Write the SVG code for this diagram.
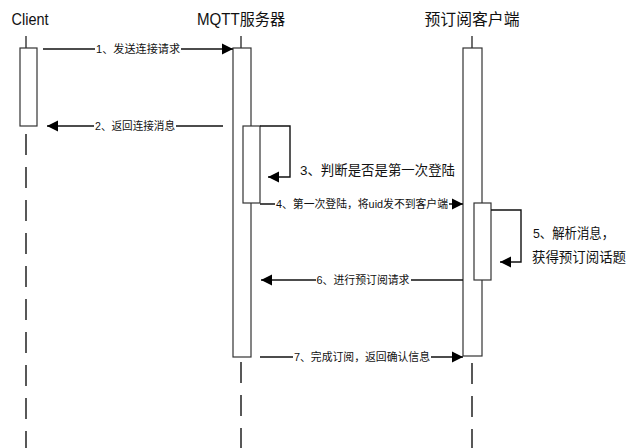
<svg xmlns="http://www.w3.org/2000/svg" width="635" height="448" viewBox="0 0 635 448">
<defs>
<marker id="ah" markerUnits="userSpaceOnUse" markerWidth="12" markerHeight="12" viewBox="0 0 12 12" refX="11" refY="6" orient="auto">
<path d="M0,0.5 L11,6 L0,11.5 z" fill="#000"/>
</marker>
</defs>
<style>
.box{fill:#fff;stroke:#333;stroke-width:1.2}
.stub{stroke:#222;stroke-width:1.3;fill:none}
.dash{stroke:#222;stroke-width:1.5;stroke-dasharray:21 12;fill:none}
.msg{stroke:#111;stroke-width:1.4;fill:none}
.t{font-family:"Liberation Sans","Noto Sans CJK SC",sans-serif;fill:#111}
.title{font-size:16px}
.lbl{font-size:11px}
.note{font-size:13.5px}
.bg{fill:#fff}
</style>
<rect width="635" height="448" fill="#fff"/>

<g id="client">
<text class="t title" x="30" y="25" text-anchor="middle" textLength="37" lengthAdjust="spacingAndGlyphs">Client</text>
<line class="stub" x1="26" y1="36" x2="26" y2="48"/>
<rect class="box" x="20" y="48" width="17" height="78"/>
<line class="dash" x1="26" y1="134" x2="26" y2="448"/>
</g>

<g id="mqtt">
<text class="t title" x="241" y="25" text-anchor="middle" textLength="88" lengthAdjust="spacingAndGlyphs">MQTT服务器</text>
<line class="stub" x1="241" y1="36" x2="241" y2="48"/>
<rect class="box" x="233" y="48" width="18" height="309"/>
<rect class="box" x="243" y="126" width="17" height="77"/>
<line class="dash" x1="241" y1="362" x2="241" y2="448"/>
</g>

<g id="subscriber">
<text class="t title" x="472" y="25" text-anchor="middle" textLength="95" lengthAdjust="spacingAndGlyphs">预订阅客户端</text>
<line class="stub" x1="472" y1="36" x2="472" y2="48"/>
<rect class="box" x="463" y="48" width="19" height="308"/>
<rect class="box" x="474" y="203" width="17" height="77"/>
<line class="dash" x1="472" y1="363" x2="472" y2="448"/>
</g>

<g id="connectors">
<line class="msg" x1="43" y1="49" x2="233" y2="49" marker-end="url(#ah)"/>
<rect class="bg" x="95" y="42" width="86" height="14"/>
<text class="t lbl" x="138" y="53" text-anchor="middle" textLength="84" lengthAdjust="spacingAndGlyphs">1、发送连接请求</text>

<line class="msg" x1="223" y1="126" x2="47" y2="126" marker-end="url(#ah)"/>
<rect class="bg" x="94" y="119" width="82" height="14"/>
<text class="t lbl" x="135" y="130" text-anchor="middle" textLength="80" lengthAdjust="spacingAndGlyphs">2、返回连接消息</text>

<path class="msg" d="M260,126 H290 V177 H268" marker-end="url(#ah)"/>
<text class="t note" x="300" y="175" textLength="155" lengthAdjust="spacingAndGlyphs">3、判断是否是第一次登陆</text>

<line class="msg" x1="260" y1="204" x2="463" y2="204" marker-end="url(#ah)"/>
<rect class="bg" x="275" y="197" width="174" height="14"/>
<text class="t lbl" x="362" y="208" text-anchor="middle" textLength="172" lengthAdjust="spacingAndGlyphs">4、第一次登陆，将uid发不到客户端</text>

<path class="msg" d="M491,210 H521 V262 H500" marker-end="url(#ah)"/>
<text class="t note" x="533" y="238" textLength="81" lengthAdjust="spacingAndGlyphs">5、解析消息，</text>
<text class="t note" x="532" y="262" textLength="94" lengthAdjust="spacingAndGlyphs">获得预订阅话题</text>

<line class="msg" x1="463" y1="280" x2="261" y2="280" marker-end="url(#ah)"/>
<rect class="bg" x="316" y="273" width="95" height="14"/>
<text class="t lbl" x="363" y="284" text-anchor="middle" textLength="93" lengthAdjust="spacingAndGlyphs">6、进行预订阅请求</text>

<line class="msg" x1="260" y1="357" x2="463" y2="357" marker-end="url(#ah)"/>
<rect class="bg" x="293" y="350" width="138" height="14"/>
<text class="t lbl" x="362" y="361" text-anchor="middle" textLength="136" lengthAdjust="spacingAndGlyphs">7、完成订阅，返回确认信息</text>
</g>
</svg>
